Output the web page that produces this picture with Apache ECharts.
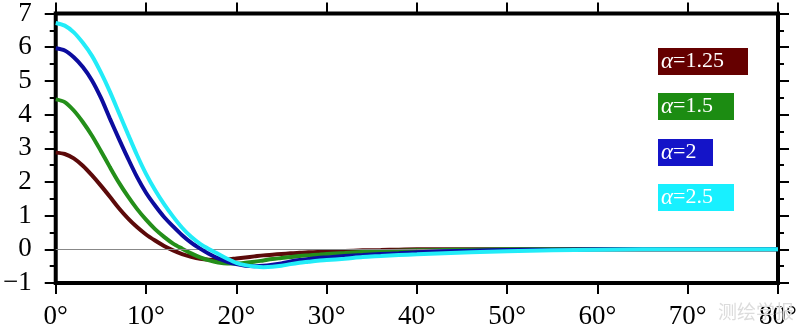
<!DOCTYPE html>
<html>
<head>
<meta charset="utf-8">
<script src="https://cdn.jsdelivr.net/npm/echarts@6/dist/echarts.min.js"></script>
<style>html,body{margin:0;padding:0;background:#fff}#c{width:800px;height:330px}</style>
</head>
<body>
<div id="c"></div>
<script>
// angles (degrees)
const angles = [0,1,2,3,4,5,6,7,8,9,10,11,12,13,14,15,16,17,18,19,20,21,22,23,24,25,26,27,28,29,30,32,34,36,38,40,43,46,50,55,60,65,70,75,80];
const alpha125 = [2.87,2.83,2.70,2.48,2.20,1.89,1.56,1.22,0.92,0.66,0.44,0.26,0.10,-0.03,-0.14,-0.22,-0.28,-0.31,-0.32,-0.30,-0.27,-0.24,-0.21,-0.18,-0.16,-0.14,-0.12,-0.10,-0.09,-0.08,-0.07,-0.05,-0.03,-0.02,-0.01,0,0,0,0,0,0,0,0,0,0];
const alpha15 = [4.45,4.37,4.12,3.78,3.38,2.92,2.44,1.98,1.57,1.20,0.88,0.60,0.37,0.17,0.02,-0.12,-0.24,-0.33,-0.39,-0.42,-0.42,-0.40,-0.37,-0.33,-0.29,-0.26,-0.23,-0.20,-0.18,-0.16,-0.14,-0.11,-0.08,-0.06,-0.04,-0.03,-0.02,-0.01,0,0,0,0,0,0,0];
const alpha2 = [5.97,5.90,5.70,5.41,5.02,4.50,3.88,3.28,2.70,2.15,1.68,1.30,0.96,0.68,0.42,0.20,0.02,-0.14,-0.27,-0.37,-0.44,-0.49,-0.50,-0.49,-0.46,-0.42,-0.36,-0.32,-0.29,-0.26,-0.24,-0.20,-0.17,-0.14,-0.12,-0.09,-0.06,-0.04,-0.02,-0.01,0,0,0,0,0];
const alpha25 = [6.72,6.64,6.44,6.13,5.75,5.25,4.68,4.05,3.42,2.80,2.24,1.76,1.34,0.97,0.64,0.37,0.16,0.00,-0.14,-0.28,-0.40,-0.47,-0.51,-0.53,-0.52,-0.49,-0.44,-0.40,-0.37,-0.34,-0.32,-0.28,-0.23,-0.20,-0.17,-0.15,-0.12,-0.09,-0.06,-0.03,-0.01,0,0,0,0];
const seriesNames = ['α=1.25','α=1.5','α=2','α=2.5'];
const seriesValues = [alpha125, alpha15, alpha2, alpha25];
const lineColors = ['#5c0a0a','#248f1a','#0c0c9e','#22ecf8'];
const boxColors = ['#650000','#1c8c12','#1414c8','#18f0ff'];
const yTicks = [-1,0,1,2,3,4,5,6,7];
const xTicks = [0,10,20,30,40,50,60,70,80];

const serif = 'Liberation Serif';
const chart = echarts.init(document.getElementById('c'));

const series = seriesValues.map((vals, i) => ({
  name: seriesNames[i],
  type: 'line',
  data: angles.map((a, j) => [a, vals[j]]),
  smooth: 0.3,
  showSymbol: false,
  symbol: 'none',
  lineStyle: {color: lineColors[i], width: 4},
  z: 3 + i
}));
series.unshift({
  type: 'line', data: [], silent: true,
  markLine: {symbol: 'none', silent: true, label: {show: false},
    lineStyle: {color: '#888', width: 1, type: 'solid'}, data: [{yAxis: 0}]},
  z: 2
});

const boxW = [90, 76, 55, 76];
const boxTop = [48, 93, 139, 184];
const graphics = [];
seriesNames.forEach((n, i) => {
  graphics.push({type: 'rect', left: 658, top: boxTop[i], shape: {width: boxW[i], height: 27}, style: {fill: boxColors[i]}, z: 10});
  graphics.push({type: 'text', left: 661, top: boxTop[i] + 2, z: 11,
    style: {text: '{a|α}{b|' + n.slice(1) + '}', fill: '#fff',
      rich: {a: {fontFamily: serif, fontStyle: 'italic', fontSize: 23, fill: '#fff'}, b: {fontFamily: serif, fontSize: 22, fill: '#fff'}}}});
});
graphics.push({type: 'text', left: 718, top: 302, z: 1, style: {text: '测绘学报', fontFamily: 'Noto Sans CJK SC', fontSize: 19, fill: '#dcdcdc'}});

const tickStyle = {show: true, inside: false, length: 11, lineStyle: {color: '#000', width: 2}};
chart.setOption({
  animation: false,
  backgroundColor: '#fff',
  grid: {left: 55, right: 22, top: 12, bottom: 47, show: true, borderColor: '#000', borderWidth: 4, backgroundColor: 'transparent'},
  xAxis: [
    {type: 'value', min: 0, max: 80, interval: 10, position: 'bottom',
      axisLine: {show: false, onZero: false}, splitLine: {show: false},
      axisTick: tickStyle,
      axisLabel: {formatter: v => v + '°', fontFamily: serif, fontSize: 27, color: '#000', margin: 20}},
    {type: 'value', min: 0, max: 80, interval: 10, position: 'top',
      axisLine: {show: false, onZero: false}, splitLine: {show: false},
      axisTick: tickStyle,
      axisLabel: {show: false}}
  ],
  yAxis: [
    {type: 'value', min: -1, max: 7, interval: 1, position: 'left',
      axisLine: {show: false, onZero: false}, splitLine: {show: false},
      axisTick: tickStyle,
      minorTick: {show: true, splitNumber: 2, length: 6, lineStyle: {color: '#000', width: 2}},
      axisLabel: {formatter: v => v < 0 ? '−' + Math.abs(v) : String(v), fontFamily: serif, fontSize: 27, color: '#000', margin: 24}},
    {type: 'value', min: -1, max: 7, interval: 1, position: 'right',
      axisLine: {show: false, onZero: false}, splitLine: {show: false},
      axisTick: tickStyle,
      minorTick: {show: true, splitNumber: 2, length: 6, lineStyle: {color: '#000', width: 2}},
      axisLabel: {show: false}}
  ],
  series: series,
  graphic: graphics
});
</script>
</body>
</html>
